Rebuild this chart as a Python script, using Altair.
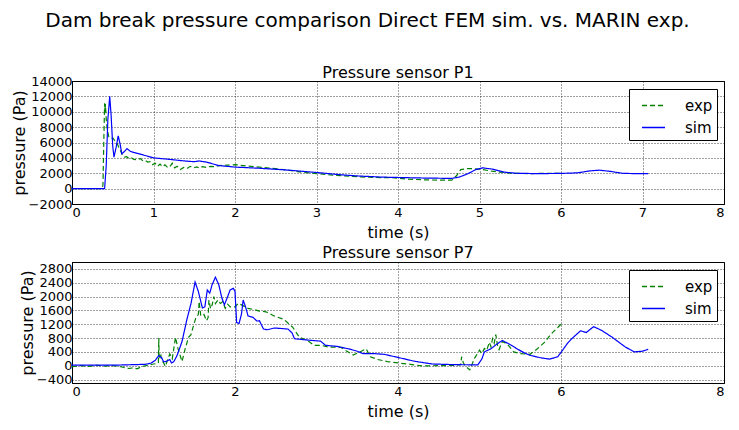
import altair as alt
import pandas as pd

# ---- P1 data ----
p1_sim_t = [0, 0.40, 0.42, 0.44, 0.463, 0.48, 0.50, 0.515, 0.54, 0.567, 0.59, 0.611, 0.64, 0.675, 0.71, 0.744,
            0.85, 1.0, 1.2, 1.4, 1.50, 1.56, 1.65, 1.8, 2.0, 2.3, 2.6, 3.0, 3.3, 3.5, 3.8, 4.0, 4.3, 4.66, 4.75,
            4.85, 4.95, 5.04, 5.15, 5.3, 5.45, 5.7, 6.0, 6.2, 6.35, 6.47, 6.6, 6.75, 6.9, 7.07]
p1_sim_p = [0, 0, 3000, 9000, 12000, 9500, 5500, 4100, 5300, 6870, 5800, 4530, 4800, 5210, 4900, 4740,
            4450, 4000, 3800, 3580, 3500, 3600, 3450, 3000, 2800, 2650, 2450, 2100, 1800, 1650, 1500, 1450, 1380, 1330, 1500,
            1900, 2450, 2700, 2550, 2150, 2000, 1950, 1980, 2050, 2300, 2400, 2250, 2000, 1950, 1960]

p1_exp_t = [0, 0.37, 0.38, 0.39, 0.40, 0.405, 0.41, 0.42, 0.434, 0.45, 0.474, 0.50, 0.52, 0.55, 0.58, 0.60, 0.62,
            0.643, 0.67, 0.70, 0.73, 0.76, 0.80, 0.84, 0.87, 0.90, 0.93, 0.96, 0.99, 1.02, 1.05, 1.08, 1.11, 1.14,
            1.17, 1.20, 1.23, 1.26, 1.29, 1.33, 1.37, 1.41, 1.45, 1.49, 1.53, 1.57, 1.6, 1.65, 1.7, 1.75, 1.8, 1.9,
            2.0, 2.1, 2.2, 2.35, 2.5, 2.69, 2.85, 3.0, 3.2, 3.5, 3.7, 3.93, 4.1, 4.3, 4.5, 4.66, 4.72, 4.77, 4.85,
            4.92, 5.03, 5.15, 5.25, 5.38, 5.6, 5.8, 6.0]
p1_exp_p = [0, 0, 500, 6000, 11100, 10000, 11000, 9000, 7600, 6800, 6530, 6600, 6300, 6000, 5200, 4830, 4300,
            4100, 4150, 3900, 4000, 3800, 3760, 3900, 3600, 3650, 3450, 3500, 3120, 3300, 2900, 3200, 2850, 3100,
            2800, 2820, 3300, 2700, 2900, 2480, 2750, 2600, 2900, 2700, 2820, 2650, 2850, 2750, 2900, 2850, 3000, 3050,
            3120, 3000, 2900, 2750, 2600, 2350, 2100, 1950, 1750, 1550, 1450, 1420, 1250, 1150, 1100, 1110, 1700, 2480, 2600,
            2600, 2500, 2270, 2150, 2000, 1950, 1990, 2000]

# ---- P7 data ----
p7_sim_t = [0, 0.5, 0.9, 0.965, 1.02, 1.065, 1.1, 1.125, 1.16, 1.2, 1.22, 1.25, 1.29, 1.35, 1.41, 1.46, 1.51, 1.55,
            1.60, 1.63, 1.66, 1.69, 1.72, 1.76, 1.80, 1.84, 1.87, 1.91, 1.94, 1.98, 2.0, 2.02, 2.05, 2.08, 2.10, 2.13,
            2.16, 2.22, 2.27, 2.30, 2.35, 2.40, 2.48, 2.55, 2.65, 2.70, 2.73, 2.9, 3.05, 3.11, 3.25, 3.39, 3.5, 3.57,
            3.7, 3.83, 4.0, 4.2, 4.42, 4.7, 4.98, 5.03, 5.06, 5.14, 5.21, 5.28, 5.37, 5.46, 5.55, 5.62, 5.75, 5.86,
            5.96, 6.02, 6.08, 6.14, 6.24, 6.31, 6.40, 6.5, 6.63, 6.79, 6.9, 7.0, 7.07]
p7_sim_p = [20, 15, 40, 70, 150, 295, 230, 110, 130, 180, 80, 120, 300, 700, 1340, 1800, 2420, 2150,
            1670, 1700, 2190, 2100, 2350, 2560, 2350, 1950, 1760, 2000, 2190, 2240, 2150, 1250, 1220, 1500, 1900, 1700,
            1440, 1400, 1290, 1300, 1060, 1040, 1090, 1080, 1060, 950, 780, 740, 710, 590, 560, 490, 420, 350,
            350, 330, 240, 130, 50, 30, 25, 200, 400, 490, 620, 730, 620, 490, 370, 300, 230, 190,
            260, 450, 650, 800, 1010, 960, 1130, 1020, 820, 540, 400, 420, 475]

p7_exp_t = [0, 0.1, 0.2, 0.3, 0.4, 0.5, 0.6, 0.7, 0.75, 0.8, 0.85, 0.9, 0.95, 1.0, 1.04, 1.06, 1.065, 1.07, 1.09,
            1.1, 1.12, 1.145, 1.17, 1.2, 1.23, 1.27, 1.3, 1.35, 1.39, 1.43, 1.46, 1.49, 1.52, 1.55, 1.56, 1.58, 1.62,
            1.65, 1.67, 1.68, 1.70, 1.72, 1.74, 1.76, 1.79, 1.82, 1.85, 1.88, 1.91, 1.94, 2.0, 2.04, 2.08, 2.16, 2.24,
            2.3, 2.38, 2.48, 2.60, 2.71, 2.79, 2.89, 2.97, 3.05, 3.15, 3.29, 3.45, 3.55, 3.61, 3.66, 3.75, 3.87, 4.0,
            4.15, 4.29, 4.5, 4.7, 4.77, 4.78, 4.80, 4.82, 4.88, 4.94, 5.0, 5.03, 5.06, 5.09, 5.12, 5.14, 5.16, 5.18,
            5.2, 5.22, 5.24, 5.28, 5.34, 5.42, 5.5, 5.62, 5.70, 5.80, 5.88, 6.0]
p7_exp_p = [-30, 0, -20, 10, -10, 0, -30, -80, -60, -90, -30, 0, 20, 50, 60, 80, 800, 200, 300,
            150, 100, -20, 150, 340, 200, 820, 500, 120, 500, 820, 900, 1150, 1390, 1480, 1860, 1440, 1480,
            1300, 1390, 1900, 1650, 1760, 2000, 1800, 1900, 1800, 1850, 1660, 1780, 1700, 1700, 1800, 1760, 1660, 1620,
            1580, 1560, 1440, 1340, 1110, 820, 730, 590, 590, 540, 540, 310, 420, 490, 260, 180, 120, 80,
            40, -5, 0, 10, 30, 260, 100, 0, -120, 220, 450, 350, 500, 450, 680, 550, 780, 650,
            900, 600, 470, 700, 630, 400, 350, 330, 470, 680, 920, 1200]

series_names = ["exp", "sim"]
series_colors = ["#008000", "#0000ff"]
series_dash = [[5, 3], [1, 0]]


def frame(exp_t, exp_p, sim_t, sim_p):
    a = pd.DataFrame({"t": exp_t, "p": exp_p, "series": "exp", "o": range(len(exp_t))})
    b = pd.DataFrame({"t": sim_t, "p": sim_p, "series": "sim", "o": range(len(sim_t))})
    return pd.concat([a, b], ignore_index=True)


def panel(df, title, ydomain, yticks, xticks, height, title_offset):
    return alt.Chart(df).mark_line(strokeWidth=1.2).encode(
        x=alt.X("t:Q", scale=alt.Scale(domain=[0, 8], nice=False),
                axis=alt.Axis(values=xticks, format="d", title="time (s)")),
        y=alt.Y("p:Q", scale=alt.Scale(domain=ydomain, nice=False, zero=False),
                axis=alt.Axis(values=yticks, format="d", title="pressure (Pa)")),
        color=alt.Color("series:N", title=None,
                        scale=alt.Scale(domain=series_names, range=series_colors),
                        legend=alt.Legend(orient="none", legendX=557, legendY=8)),
        strokeDash=alt.StrokeDash("series:N", title=None,
                                  scale=alt.Scale(domain=series_names, range=series_dash),
                                  legend=alt.Legend(orient="none", legendX=557, legendY=8)),
        order="o:Q",
    ).properties(
        width=652, height=height,
        title=alt.TitleParams(title, fontSize=16, fontWeight="normal", font="DejaVu Sans",
                              anchor="middle", frame="group", offset=title_offset, color="black"),
    )


top = panel(frame(p1_exp_t, p1_exp_p, p1_sim_t, p1_sim_p), "Pressure sensor P1",
            [-2000, 14000], list(range(-2000, 14001, 2000)), list(range(0, 9)), 123, -6)
bottom = panel(frame(p7_exp_t, p7_exp_p, p7_sim_t, p7_sim_p), "Pressure sensor P7",
               [-500, 3000], list(range(-400, 2801, 400)), [0, 2, 4, 6, 8], 121, 1)

chart = alt.vconcat(top, bottom, spacing=3).resolve_scale(
    color="independent", strokeDash="independent"
).resolve_legend(color="independent", strokeDash="independent").properties(
    title=alt.TitleParams("Dam break pressure comparison Direct FEM sim. vs. MARIN exp.",
                          fontSize=20, fontWeight="normal", font="DejaVu Sans",
                          anchor="middle", offset=34, color="black"),
    padding={"left": 2, "top": 2, "right": 0, "bottom": 0},
).configure_axis(
    labelFont="DejaVu Sans", labelFontSize=13, labelColor="black",
    titleFont="DejaVu Sans", titleFontSize=16, titleFontWeight="normal", titleColor="black",
    domainColor="black", ticks=False, tickSize=0,
    gridColor="black", gridDash=[1, 2], gridOpacity=0.75, gridWidth=1,
).configure_axisX(
    titlePadding=5, labelPadding=2,
).configure_axisY(
    titlePadding=1, labelPadding=0,
).configure_view(
    stroke="black", strokeWidth=1
).configure_legend(
    fillColor="white", strokeColor="black", padding=4,
    labelFont="DejaVu Sans", labelFontSize=15, labelColor="black",
    symbolType="stroke", symbolSize=529, symbolStrokeWidth=1.5, symbolOffset=8,
    rowPadding=1, labelOffset=19, cornerRadius=0,
)

chart.save("out.html", embed_options={"renderer": "svg", "actions": False})
